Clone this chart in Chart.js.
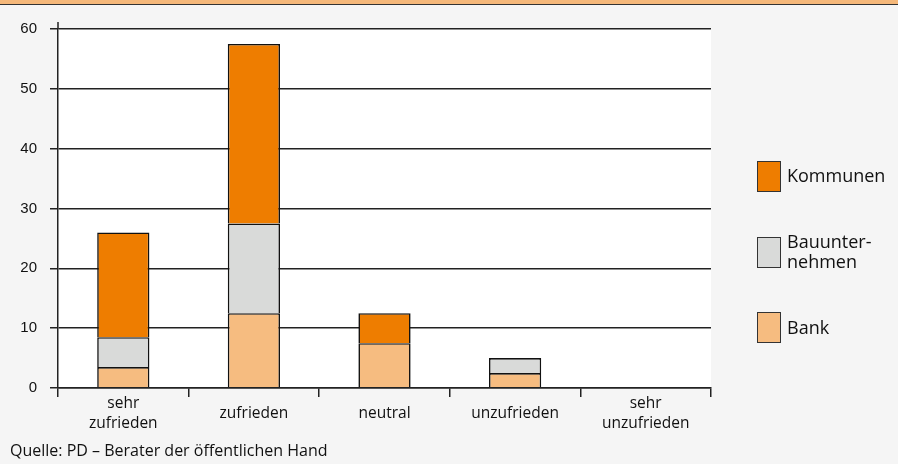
<!DOCTYPE html>
<html>
<head>
<meta charset="utf-8">
<script src="https://cdn.jsdelivr.net/npm/chart.js@4.4.0/dist/chart.umd.min.js"></script>
<style>
  html, body { margin: 0; padding: 0; }
  body { width: 898px; height: 464px; background: #f5f5f5; position: relative; overflow: hidden; font-family: "Open Sans", sans-serif; color: #111; }
  .topband { position: absolute; left: 0; top: 0; width: 898px; height: 4px; background: #f5b87a; border-bottom: 1.5px solid #333; }
  #chartWrap { position: absolute; left: 0; top: 0; width: 898px; height: 464px; }
  .legend { position: absolute; left: 757px; top: 0; font-size: 18px; line-height: 20px; }
  .legend .item { position: absolute; left: 0; white-space: nowrap; }
  .legend .box { position: absolute; left: 0; border: 1.5px solid #333; box-sizing: border-box; width: 24px; height: 31px; }
  .legend .label { position: absolute; left: 30px; }
  .source { position: absolute; left: 10px; top: 439px; font-size: 16px; }
</style>
</head>
<body>
<div class="topband"></div>
<div id="chartWrap"><canvas id="chart" width="898" height="464"></canvas></div>
<div class="legend" id="legend"></div>
<div class="source">Quelle: PD – Berater der öffentlichen Hand</div>
<script>
const categories = [['sehr', 'zufrieden'], 'zufrieden', 'neutral', 'unzufrieden', ['sehr', 'unzufrieden']];
const bank = [3.5, 12.5, 7.5, 2.5, 0];
const bauunternehmen = [5, 15, 0, 2.5, 0];
const kommunen = [17.5, 30, 5, 0, 0];
const yTicks = [0, 10, 20, 30, 40, 50, 60];

const colors = {
    kommunen: '#ee7d00',
    bau: '#d9dad9',
    bank: '#f6bc80'
};

// legend (top to bottom: Kommunen, Bauunternehmen, Bank)
const legendItems = [
    { text: 'Kommunen', color: colors.kommunen, boxTop: 161, textTop: 165 },
    { text: 'Bauunter-<br>nehmen', color: colors.bau, boxTop: 237, textTop: 231 },
    { text: 'Bank', color: colors.bank, boxTop: 312, textTop: 317 }
];
const legend = document.getElementById('legend');
legendItems.forEach(item => {
    const div = document.createElement('div');
    div.className = 'item';
    div.innerHTML = `<div class="box" style="top:${item.boxTop}px;background:${item.color}"></div>` +
        `<div class="label" style="top:${item.textTop}px">${item.text}</div>`;
    legend.appendChild(div);
});

const plotBackground = {
    id: 'plotBackground',
    beforeDraw(chart) {
        const { ctx, chartArea } = chart;
        ctx.save();
        ctx.fillStyle = '#ffffff';
        ctx.fillRect(chartArea.left, chartArea.top, chartArea.right - chartArea.left, chartArea.bottom - chartArea.top);
        ctx.restore();
    },
    afterDraw(chart) {
        // y axis line runs a little above the top gridline
        const { ctx, chartArea } = chart;
        ctx.save();
        ctx.strokeStyle = '#222';
        ctx.lineWidth = 1.5;
        ctx.beginPath();
        ctx.moveTo(chartArea.left, chartArea.top - 7);
        ctx.lineTo(chartArea.left, chartArea.top);
        ctx.stroke();
        ctx.restore();
    }
};

const barStyle = {
    borderColor: '#111',
    borderWidth: 1.6,
    borderSkipped: 'bottom',
    barPercentage: 0.4,
    categoryPercentage: 1.0
};

// empty segments are not drawn
const seg = arr => arr.map(v => (v === 0 ? null : v));

new Chart(document.getElementById('chart').getContext('2d'), {
    type: 'bar',
    data: {
        labels: categories,
        datasets: [
            { label: 'Bank', data: seg(bank), backgroundColor: colors.bank, ...barStyle },
            { label: 'Bauunternehmen', data: seg(bauunternehmen), backgroundColor: colors.bau, ...barStyle },
            { label: 'Kommunen', data: seg(kommunen), backgroundColor: colors.kommunen, ...barStyle }
        ]
    },
    options: {
        responsive: false,
        animation: false,
        devicePixelRatio: 1,
        layout: { padding: { top: 29, right: 187, bottom: 0, left: 0 } },
        plugins: {
            legend: { display: false },
            tooltip: { enabled: false }
        },
        scales: {
            x: {
                stacked: true,
                offset: true,
                grid: {
                    offset: true,
                    drawOnChartArea: false,
                    drawTicks: true,
                    tickLength: 9,
                    color: '#222',
                    lineWidth: 1.5
                },
                border: { display: true, color: '#222', width: 1.5, z: 1 },
                ticks: {
                    color: '#111',
                    font: { family: 'Open Sans', size: 15.5, lineHeight: 1.25 },
                    padding: 7,
                    crossAlign: 'center',
                    maxRotation: 0,
                    autoSkip: false
                },
                afterFit(scale) { scale.height = 76; }
            },
            y: {
                stacked: true,
                min: 0,
                max: 60,
                afterBuildTicks(scale) { scale.ticks = yTicks.map(v => ({ value: v })); },
                grid: {
                    color: '#222',
                    lineWidth: 1.5,
                    tickLength: 8
                },
                border: { display: true, color: '#222', width: 1.5 },
                ticks: {
                    color: '#111',
                    font: { family: 'Liberation Sans', size: 15 },
                    padding: 13
                },
                afterFit(scale) { scale.width = 58; }
            }
        }
    },
    plugins: [plotBackground]
});
</script>
</body>
</html>
